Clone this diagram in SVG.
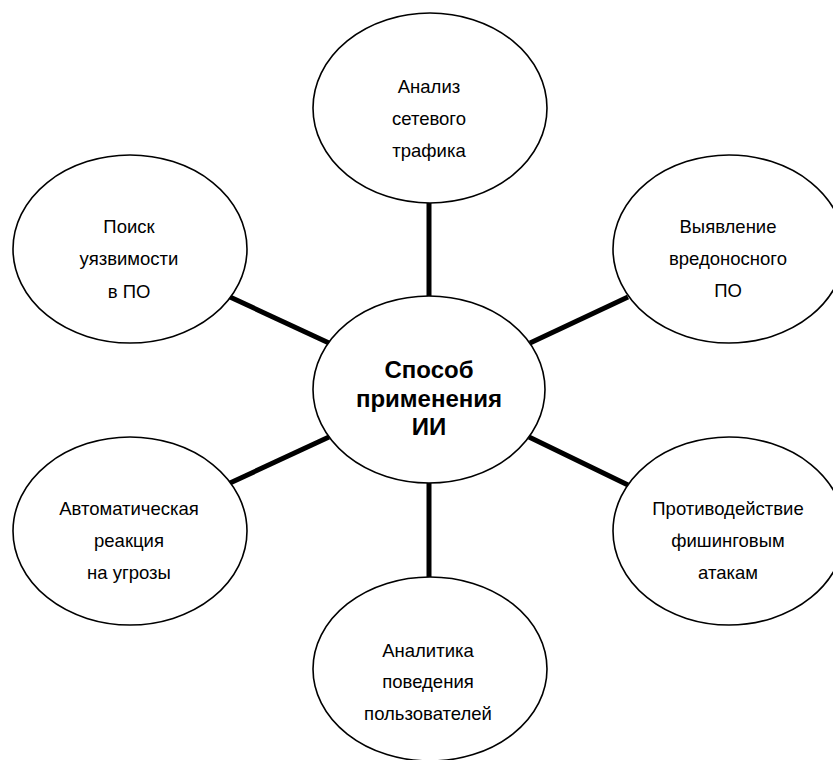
<svg xmlns="http://www.w3.org/2000/svg" width="833" height="760" viewBox="0 0 833 760">
<style>
.node ellipse{fill:#fff;stroke:#000;stroke-width:1.6}
.lbl{font-family:"Liberation Sans",Arial,sans-serif;font-size:18.5px;fill:#000;text-anchor:middle}
.hub{font-family:"Liberation Sans",Arial,sans-serif;font-size:24px;font-weight:bold;fill:#000;text-anchor:middle}
.conn line{stroke:#000;stroke-width:5}
</style>
<rect width="833" height="760" fill="#fff"/>
<g id="connectors" class="conn">
<line x1="429" y1="203" x2="429" y2="297"/>
<line x1="429" y1="482" x2="429" y2="577"/>
<line x1="230" y1="297" x2="329" y2="343"/>
<line x1="530" y1="343" x2="628" y2="297"/>
<line x1="230" y1="483" x2="329" y2="437"/>
<line x1="529" y1="437" x2="628" y2="485"/>
</g>
<g id="n-top" class="node">
<ellipse cx="430" cy="108" rx="117" ry="95"/>
<text class="lbl" x="429" y="93">Анализ</text>
<text class="lbl" x="429" y="125">сетевого</text>
<text class="lbl" x="429" y="157">трафика</text>
</g>
<g id="n-upper-left" class="node">
<ellipse cx="130" cy="249" rx="117" ry="94"/>
<text class="lbl" x="129" y="233">Поиск</text>
<text class="lbl" x="129" y="265">уязвимости</text>
<text class="lbl" x="129" y="298">в ПО</text>
</g>
<g id="n-upper-right" class="node">
<ellipse cx="729" cy="249" rx="116" ry="94"/>
<text class="lbl" x="728" y="233">Выявление</text>
<text class="lbl" x="728" y="265">вредоносного</text>
<text class="lbl" x="728" y="297">ПО</text>
</g>
<g id="n-lower-left" class="node">
<ellipse cx="130" cy="531" rx="117" ry="94"/>
<text class="lbl" x="129" y="515">Автоматическая</text>
<text class="lbl" x="129" y="547">реакция</text>
<text class="lbl" x="129" y="579">на угрозы</text>
</g>
<g id="n-lower-right" class="node">
<ellipse cx="729" cy="531" rx="116" ry="94"/>
<text class="lbl" x="728" y="515">Противодействие</text>
<text class="lbl" x="728" y="547">фишинговым</text>
<text class="lbl" x="728" y="579">атакам</text>
</g>
<g id="n-bottom" class="node">
<ellipse cx="430" cy="669" rx="117" ry="92"/>
<text class="lbl" x="428" y="657">Аналитика</text>
<text class="lbl" x="428" y="688">поведения</text>
<text class="lbl" x="428" y="720">пользователей</text>
</g>
<g id="n-center" class="node">
<ellipse cx="429" cy="389.5" rx="116" ry="93.5"/>
<text class="hub" x="429" y="378">Способ</text>
<text class="hub" x="429" y="407">применения</text>
<text class="hub" x="429" y="435">ИИ</text>
</g>
</svg>
